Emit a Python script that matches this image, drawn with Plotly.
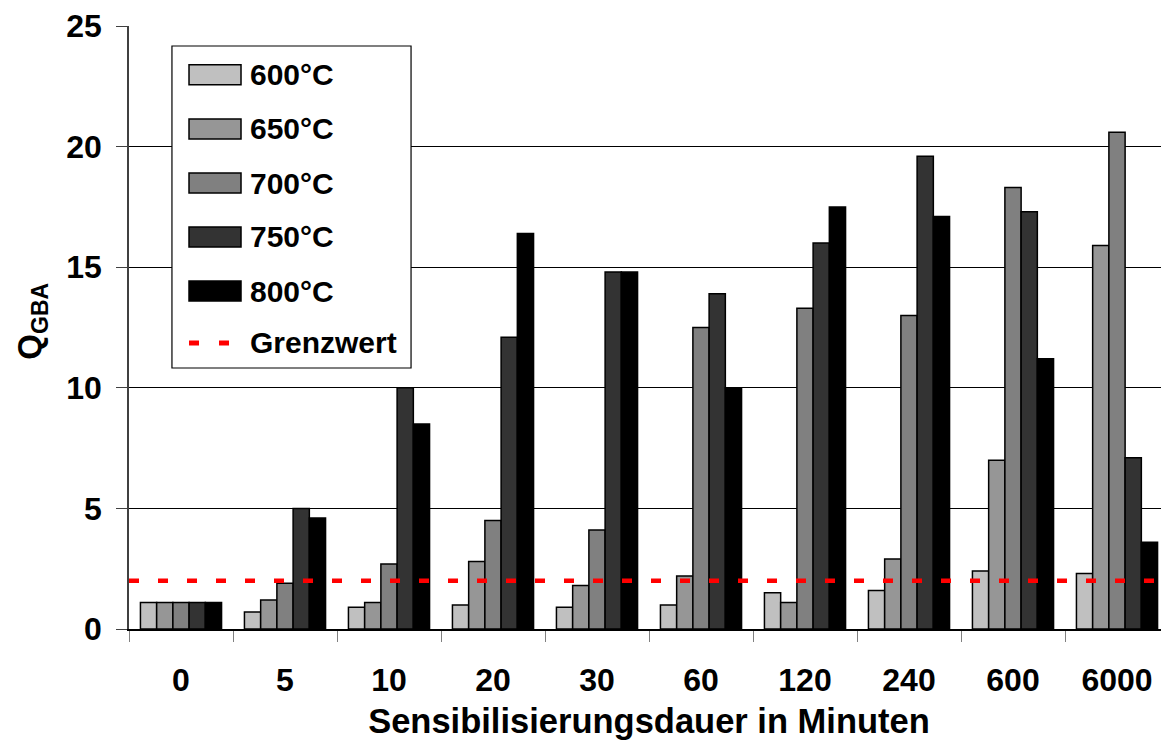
import plotly.graph_objects as go

categories = ["0", "5", "10", "20", "30", "60", "120", "240", "600", "6000"]
series_names = ["600°C", "650°C", "700°C", "750°C", "800°C"]
v600 = [1.1, 0.7, 0.9, 1.0, 0.9, 1.0, 1.5, 1.6, 2.4, 2.3]
v650 = [1.1, 1.2, 1.1, 2.8, 1.8, 2.2, 1.1, 2.9, 7.0, 15.9]
v700 = [1.1, 1.9, 2.7, 4.5, 4.1, 12.5, 13.3, 13.0, 18.3, 20.6]
v750 = [1.1, 5.0, 10.0, 12.1, 14.8, 13.9, 16.0, 19.6, 17.3, 7.1]
v800 = [1.1, 4.6, 8.5, 16.4, 14.8, 10.0, 17.5, 17.1, 11.2, 3.6]
grenzwert = 2.0
grenzwert_name = "Grenzwert"
y_ticks = [0, 5, 10, 15, 20, 25]

colors = ["#C0C0C0", "#969696", "#808080", "#333333", "#000000"]
FONT = "Liberation Sans, Arial, sans-serif"

fig = go.Figure()
for name, vals, col in zip(series_names, [v600, v650, v700, v750, v800], colors):
    fig.add_trace(go.Bar(
        x=categories, y=vals, name=name,
        marker=dict(color=col, line=dict(color="#000000", width=1.5)),
        showlegend=False,
    ))

fig.add_hline(y=grenzwert, line=dict(color="#FF0000", width=4.5, dash="10px,19px"), layer="above")

# custom legend box
fig.add_shape(type="rect", xref="paper", yref="paper", x0=0.0413, x1=0.2712, y0=0.4328, y1=0.9668,
              line=dict(color="#000000", width=1.2), fillcolor="white", layer="above")
row_y = [0.9192, 0.8292, 0.7396, 0.6501, 0.5605, 0.4743]
for i, (name, col) in enumerate(zip(series_names, colors)):
    yc = row_y[i]
    fig.add_shape(type="rect", xref="paper", yref="paper", x0=0.0577, x1=0.1077,
                  y0=yc - 0.0166, y1=yc + 0.0166,
                  line=dict(color="#000000", width=1.5), fillcolor=col, layer="above")
    fig.add_annotation(xref="paper", yref="paper", x=0.1144, y=yc, text=name,
                       showarrow=False, xanchor="left", yanchor="middle",
                       font=dict(family=FONT, size=30, color="#000000", weight="bold"))
yc = row_y[5]
fig.add_shape(type="line", xref="paper", yref="paper", x0=0.0577, x1=0.1077, y0=yc, y1=yc,
              line=dict(color="#FF0000", width=5, dash="10px,20px"), layer="above")
fig.add_annotation(xref="paper", yref="paper", x=0.1144, y=yc, text=grenzwert_name,
                   showarrow=False, xanchor="left", yanchor="middle",
                   font=dict(family=FONT, size=30, color="#000000", weight="bold"))

# y-axis title
fig.add_annotation(xref="paper", yref="paper", x=-0.093, y=0.51, text="Q<sub>GBA</sub>",
                   showarrow=False, xanchor="center", yanchor="middle", textangle=-90,
                   font=dict(family=FONT, size=33, color="#000000", weight="bold"))

fig.update_layout(
    width=1161, height=732,
    margin=dict(l=121, r=0, t=18, b=111),
    paper_bgcolor="white", plot_bgcolor="white",
    barmode="group", bargap=0.22, bargroupgap=0,
    font=dict(family=FONT, size=32, color="#000000", weight="bold"),
    showlegend=False,
)
fig.update_xaxes(
    type="category", tickson="boundaries", ticks="outside", ticklen=11, tickcolor="#808080",
    tickfont=dict(family=FONT, size=32, color="#000000", weight="bold"),
    ticklabelstandoff=22,
    showline=True, linecolor="#000000", linewidth=1.5, showgrid=False,
    title=dict(text="Sensibilisierungsdauer in Minuten",
               font=dict(family=FONT, size=34.5, weight="bold"), standoff=13),
    automargin=False,
)
fig.update_yaxes(
    range=[0, 25], tickvals=y_ticks,
    ticks="outside", ticklen=11, tickcolor="#404040",
    tickfont=dict(family=FONT, size=32, color="#000000", weight="bold"),
    ticklabelstandoff=8,
    showline=True, linecolor="#404040", linewidth=1.5,
    showgrid=True, gridcolor="#000000", gridwidth=1, zeroline=False,
    automargin=False,
)

fig.write_html("out.html")
